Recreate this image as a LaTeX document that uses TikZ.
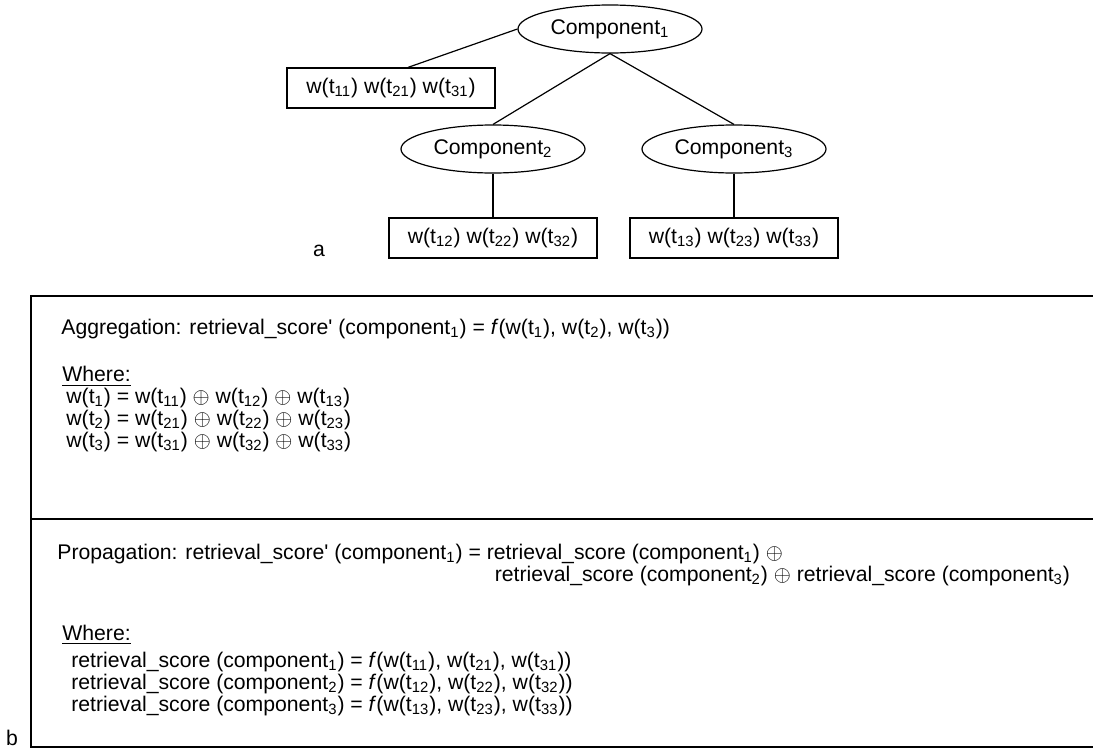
\documentclass[tikz,border=0pt]{standalone}
\usepackage{fontspec}
\setmainfont{Liberation Sans}
\usetikzlibrary{shapes.geometric}

\newcommand{\ix}[1]{\textsubscript{#1}}
\newcommand{\rs}{retrieval\_score}

\begin{document}
\begin{tikzpicture}[x=0.5pt, y=-0.5pt,
    every node/.style={font=\fontsize{10.6}{10}\selectfont, inner sep=0pt},
    comp/.style={draw, ellipse, line width=0.6pt, minimum width=92pt, minimum height=24pt},
    wbox/.style={draw, rectangle, line width=0.6pt, minimum width=104pt, minimum height=20pt},
    link/.style={line width=0.6pt},
    frame/.style={line width=1.1pt},
    formula/.style={anchor=base west, align=left}]
  \useasboundingbox (0,0) rectangle (1093,750);

  % (a) component tree
  \node[comp] (cA) at (610,29) {Component\ix{1}};
  \node[wbox] (wA) at (391,88) {w(t\ix{11}) w(t\ix{21}) w(t\ix{31})};
  \node[comp] (cB) at (493,149) {Component\ix{2}};
  \node[comp] (cC) at (734,149) {Component\ix{3}};
  \node[wbox] (wB) at (493,238) {w(t\ix{12}) w(t\ix{22}) w(t\ix{32})};
  \node[wbox] (wC) at (734,238) {w(t\ix{13}) w(t\ix{23}) w(t\ix{33})};
  \node (la) at (319,251) {a};

  \draw[link] (cA.west) -- ([xshift=8.5pt]wA.north);
  \draw[link] (cA.south) -- (cB.north);
  \draw[link] (cA.south) -- (cC.north);
  \draw[link] (cB.south) -- (wB.north);
  \draw[link] (cC.south) -- (wC.north);

  % (b) formulas (base anchor = last line)
  \draw[frame] (1100,296) -- (31,296) -- (31,747) -- (1100,747);
  \draw[frame] (31,519) -- (1100,519);
  \node[anchor=base] (lb) at (12,745) {b};

  \node[formula] (agg) at (61,334)
    {Aggregation: \rs\textquotesingle{} (component\ix{1}) = \textit{f}(w(t\ix{1}), w(t\ix{2}), w(t\ix{3}))};
  \node[formula, font=\fontsize{10.6}{9}\selectfont] (whereA) at (62,447)
    {\underline{Where:}\\
     \hspace*{2pt}w(t\ix{1}) = w(t\ix{11}) $\oplus$ w(t\ix{12}) $\oplus$ w(t\ix{13})\\
     \hspace*{2pt}w(t\ix{2}) = w(t\ix{21}) $\oplus$ w(t\ix{22}) $\oplus$ w(t\ix{23})\\
     \hspace*{2pt}w(t\ix{3}) = w(t\ix{31}) $\oplus$ w(t\ix{32}) $\oplus$ w(t\ix{33})};

  \node[formula, font=\fontsize{10.6}{11}\selectfont] (prop) at (57,581)
    {Propagation: \rs\textquotesingle{} (component\ix{1}) = \rs{} (component\ix{1}) $\oplus$\\
     \hphantom{Propagation: \rs\textquotesingle{} (component\ix{1}) = }\hspace*{4pt}\rs{} (component\ix{2}) $\oplus$ \rs{} (component\ix{3})};
  \node[formula, font=\fontsize{10.6}{11}\selectfont] (whereB) at (62,711)
    {\underline{Where:}\\[2.5pt]
     \hspace*{4.5pt}\rs{} (component\ix{1}) = \textit{f}(w(t\ix{11}), w(t\ix{21}), w(t\ix{31}))\\
     \hspace*{4.5pt}\rs{} (component\ix{2}) = \textit{f}(w(t\ix{12}), w(t\ix{22}), w(t\ix{32}))\\
     \hspace*{4.5pt}\rs{} (component\ix{3}) = \textit{f}(w(t\ix{13}), w(t\ix{23}), w(t\ix{33}))};
\end{tikzpicture}
\end{document}
